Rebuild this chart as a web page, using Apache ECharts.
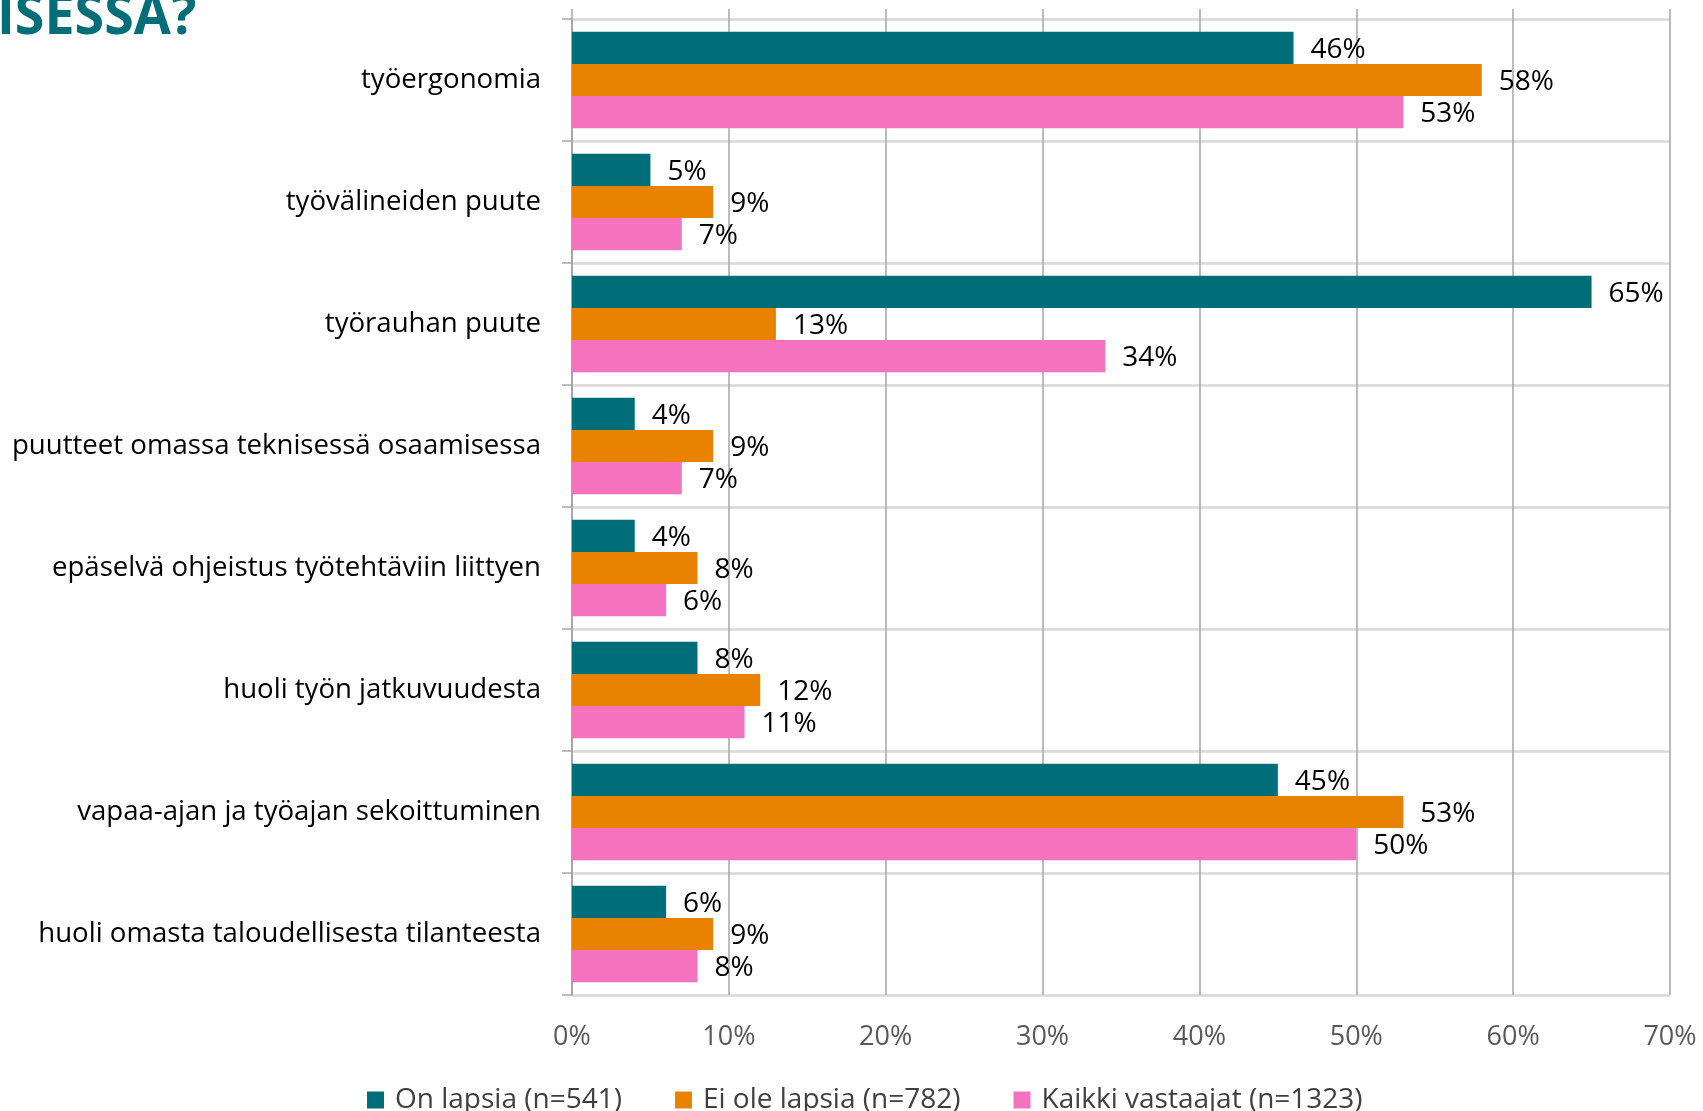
<!DOCTYPE html>
<html>
<head>
<meta charset="utf-8">
<script src="https://cdn.jsdelivr.net/npm/echarts@6/dist/echarts.min.js"></script>
<style>
html,body{margin:0;padding:0;background:#fff;}
#chart{width:1703px;height:1111px;}
</style>
</head>
<body>
<div id="chart"></div>
<script>
const categories = [
  'työergonomia',
  'työvälineiden puute',
  'työrauhan puute',
  'puutteet omassa teknisessä osaamisessa',
  'epäselvä ohjeistus työtehtäviin liittyen',
  'huoli työn jatkuvuudesta',
  'vapaa-ajan ja työajan sekoittuminen',
  'huoli omasta taloudellisesta tilanteesta'
];
const seriesNames = ['On lapsia (n=541)', 'Ei ole lapsia (n=782)', 'Kaikki vastaajat (n=1323)'];
const onLapsia = [46, 5, 65, 4, 4, 8, 45, 6];
const eiOleLapsia = [58, 9, 13, 9, 8, 12, 53, 9];
const kaikki = [53, 7, 34, 7, 6, 11, 50, 8];
const xTicks = [0, 10, 20, 30, 40, 50, 60, 70];
const titleText = 'ISESSA?';

const colors = ['#006E78', '#E88200', '#F472BE'];
const FONT = '"Open Sans", sans-serif';

const chart = echarts.init(document.getElementById('chart'), null, {renderer: 'canvas'});

function mkSeries(name, data, color) {
  return {
    name: name,
    type: 'bar',
    data: data,
    barGap: '0%',
    barCategoryGap: '21%',
    itemStyle: {color: color},
    label: {
      show: true,
      position: 'right',
      distance: 17,
      offset: [0, 2],
      formatter: p => p.value + '%',
      color: '#000',
      fontFamily: FONT,
      fontSize: 28
    },
    xAxisIndex: 0,
    yAxisIndex: 0
  };
}

const option = {
  animation: false,
  backgroundColor: '#fff',
  graphic: [{
    type: 'text',
    x: -3,
    y: -10,
    scaleX: 0.96,
    style: {
      text: titleText,
      fill: '#006E78',
      font: 'bold 56px ' + FONT
    }
  }],
  grid: {left: 572, right: 33, top: 19, bottom: 116, containLabel: false},
  legend: {
    data: seriesNames,
    left: 362,
    top: 1081,
    itemWidth: 17,
    itemHeight: 17,
    itemGap: 53,
    icon: 'rect',
    textStyle: {fontFamily: FONT, fontSize: 28, color: '#404040', padding: [0, 0, 0, 6]}
  },
  xAxis: [{
    type: 'value',
    min: xTicks[0],
    max: xTicks[xTicks.length - 1],
    interval: 10,
    position: 'bottom',
    axisLine: {show: false},
    axisTick: {show: false},
    axisLabel: {
      formatter: v => v + '%',
      color: '#595959',
      fontFamily: FONT,
      fontSize: 27,
      margin: 29
    },
    splitLine: {show: true, lineStyle: {color: '#A6A6A6', width: 1.5}}
  }, {
    type: 'value',
    min: xTicks[0],
    max: xTicks[xTicks.length - 1],
    interval: 10,
    position: 'top',
    axisLine: {show: false},
    axisTick: {show: true, length: 10, lineStyle: {color: '#A6A6A6', width: 1.5}},
    axisLabel: {show: false},
    splitLine: {show: false}
  }],
  yAxis: {
    type: 'category',
    data: categories,
    inverse: true,
    axisLine: {show: true, lineStyle: {color: '#A6A6A6', width: 2}},
    axisTick: {show: true, length: 10, lineStyle: {color: '#A6A6A6', width: 1.5}},
    axisLabel: {
      color: '#000',
      fontFamily: FONT,
      fontSize: 27.6,
      margin: 31
    },
    splitLine: {show: true, lineStyle: {color: '#D9D9D9', width: 2.5}}
  },
  series: [
    mkSeries(seriesNames[0], onLapsia, colors[0]),
    mkSeries(seriesNames[1], eiOleLapsia, colors[1]),
    mkSeries(seriesNames[2], kaikki, colors[2])
  ]
};
chart.setOption(option);
</script>
</body>
</html>
